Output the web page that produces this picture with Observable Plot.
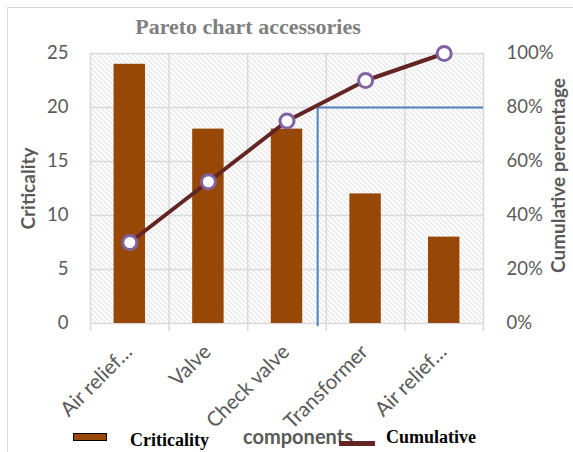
<!DOCTYPE html>
<html><head><meta charset="utf-8">
<script src="https://cdn.jsdelivr.net/npm/d3@7"></script>
<script src="https://cdn.jsdelivr.net/npm/@observablehq/plot@0.6"></script>
<style>
body{margin:0;background:#fff;}
#wrap{position:relative;width:573px;height:452px;overflow:hidden;background:#fff;}
#border{position:absolute;left:7px;top:7px;width:620px;height:520px;border:1px solid #d9d9d9;box-sizing:border-box;}
#title{position:absolute;left:0;top:14px;width:496px;text-align:center;font-family:"Liberation Serif",serif;font-weight:bold;font-size:22px;color:#7f7f7f;}
#chart{position:absolute;left:0;top:42px;}
.leg{position:absolute;font-family:"Liberation Serif",serif;font-weight:bold;font-size:18px;color:#000;}
</style></head>
<body>
<div id="wrap">
  <div id="border"></div>
  <div id="title">Pareto chart accessories</div>
  <div id="chart"></div>
  <div id="legend"></div>
</div>
<script>
const categories = ["Air relief…", "Valve", "Check valve", "Transformer", "Air relief…"];
const criticality = [24, 18, 18, 12, 8];
const cumulativePct = [30, 52.5, 75, 90, 100];
const yTicks = [0, 5, 10, 15, 20, 25];
const pctTicks = ["0%", "20%", "40%", "60%", "80%", "100%"];
const cutoffPct = 80;
const cutoffPos = 2.39;
const seriesNames = ["Criticality", "Cumulative"];

const barColor = "#974706";
const lineColor = "#632523";
const yMax = 25;
const toY = p => p / 100 * yMax;

const data = categories.map((c, i) => ({i, c, v: criticality[i], cum: cumulativePct[i]}));
const bounds = d3.range(categories.length + 1).map(i => i - 0.5);

const plot = Plot.plot({
  width: 573,
  height: 410,
  marginTop: 11,
  marginBottom: 129,
  marginLeft: 90,
  marginRight: 90,
  x: {domain: [-0.5, categories.length - 0.5], axis: null, label: null},
  y: {domain: [0, yMax], axis: null, label: null},
  style: {fontFamily: "Lato, sans-serif", fontSize: "18.5px", color: "#595959", background: "transparent"},
  marks: [
    Plot.frame({fill: "url(#hatch)", stroke: null}),
    Plot.gridY(yTicks, {stroke: "#d9d9d9", strokeOpacity: 1, strokeWidth: 1.5}),
    Plot.gridX(bounds, {stroke: "#d9d9d9", strokeOpacity: 1, strokeWidth: 1.5}),
    Plot.axisX(bounds, {tickSize: 8, tickFormat: () => "", label: null, stroke: "#d9d9d9", strokeWidth: 1.5}),
    Plot.rectY(data, {x1: d => d.i - 0.2, x2: d => d.i + 0.2, y: "v", fill: barColor}),
    Plot.ruleX([cutoffPos], {y1: -0.3, y2: toY(cutoffPct), stroke: "#4f81bd", strokeWidth: 2}),
    Plot.ruleY([toY(cutoffPct)], {x1: cutoffPos, x2: categories.length - 0.5, stroke: "#4f81bd", strokeWidth: 2}),
    Plot.line(data, {x: "i", y: d => toY(d.cum), stroke: lineColor, strokeWidth: 4}),
    Plot.dot(data, {x: "i", y: d => toY(d.cum), r: 7, fill: "white", stroke: "#8064a2", strokeWidth: 3}),
    Plot.axisY(yTicks, {anchor: "left", tickSize: 0, tickPadding: 22, label: null}),
    Plot.axisY(yTicks, {anchor: "right", tickSize: 0, tickPadding: 23, label: null, tickFormat: (d) => pctTicks[yTicks.indexOf(d)]}),
    Plot.axisX(d3.range(categories.length), {tickSize: 0, tickPadding: 25, tickRotate: -45, label: null, tickFormat: i => categories[i], dx: -1, fontSize: 20.5}),
    Plot.text(["Criticality"], {frameAnchor: "left", textAnchor: "middle", rotate: -90, dx: -62, fontWeight: "bold", fontSize: 19, fill: "#595959"}),
    Plot.text(["Cumulative percentage"], {frameAnchor: "right", textAnchor: "middle", rotate: -90, dx: 75, dy: -13, fontWeight: "bold", fontSize: 19, fill: "#595959"}),
    Plot.text(["components"], {frameAnchor: "bottom", textAnchor: "middle", dx: 11, dy: 120, fontWeight: "bold", fontSize: 20, fill: "#595959"})
  ]
});

// hatch pattern
const ns = "http://www.w3.org/2000/svg";
const defs = document.createElementNS(ns, "defs");
defs.innerHTML = '<pattern id="hatch" patternUnits="userSpaceOnUse" width="5" height="5">' +
  '<rect width="5" height="5" fill="#ffffff"/>' +
  '<path d="M-1,-1 L6,6 M-1,4 L1,6 M4,-1 L6,1" stroke="#d0d0d0" stroke-width="1"/></pattern>';
plot.insertBefore(defs, plot.firstChild);
document.getElementById("chart").appendChild(plot);

// legend
const legend = document.getElementById("legend");
legend.innerHTML =
  `<div style="position:absolute;left:73px;top:433px;width:34px;height:8px;background:${barColor};border:1px solid #000;box-sizing:border-box;"></div>` +
  `<div class="leg" style="left:130px;top:430px;">${seriesNames[0]}</div>` +
  `<div style="position:absolute;left:339px;top:441px;width:36px;height:5px;background:${lineColor};"></div>` +
  `<div class="leg" style="left:386px;top:427px;">${seriesNames[1]}</div>`;
</script>
</body></html>
